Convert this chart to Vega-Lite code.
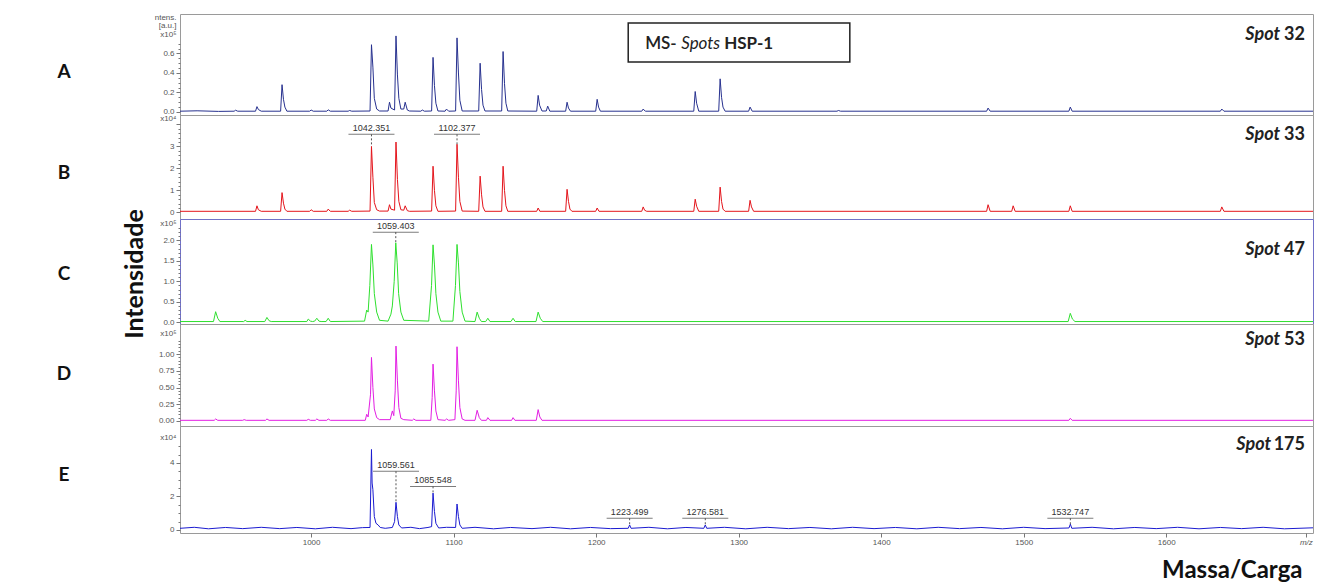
{
"$schema": "https://vega.github.io/schema/vega-lite/v6.json",
"padding": {"left": 14, "top": 12, "right": 5, "bottom": 3},
"background": "white",
"config": {
  "font": "Lato",
  "view": {"stroke": "#9a9a9a"},
  "axis": {"labelFont": "Liberation Sans", "labelFontSize": 8, "labelColor": "#555", "tickColor": "#777", "domainColor": "#888", "labelOverlap": false}
},
"datasets": {
  "letters": [{"p": "A"}, {"p": "B"}, {"p": "C"}, {"p": "D"}, {"p": "E"}],
  "A": [
{"m":908,"i":0.008},{"m":920,"i":0.012},{"m":935,"i":0.006},{"m":946,"i":0.008},{"m":947,"i":0.018},{"m":948.5,"i":0.008},
{"m":961,"i":0.008},{"m":962,"i":0.055},{"m":963,"i":0.025},{"m":965,"i":0.008},
{"m":978.6,"i":0.008},{"m":979.6,"i":0.28},{"m":980.6,"i":0.13},{"m":981.6,"i":0.05},{"m":983,"i":0.008},
{"m":999,"i":0.008},{"m":1000,"i":0.02},{"m":1001.5,"i":0.008},{"m":1011,"i":0.008},{"m":1012,"i":0.022},{"m":1013.5,"i":0.008},
{"m":1026,"i":0.008},{"m":1027,"i":0.015},{"m":1028.5,"i":0.008},
{"m":1041.35,"i":0.01},{"m":1042.35,"i":0.69},{"m":1043.35,"i":0.46},{"m":1044.35,"i":0.14},{"m":1046,"i":0.03},{"m":1048,"i":0.01},
{"m":1054,"i":0.01},{"m":1055,"i":0.1},{"m":1056,"i":0.04},{"m":1058.56,"i":0.02},{"m":1059.56,"i":0.78},{"m":1060.56,"i":0.38},{"m":1061.56,"i":0.14},{"m":1063,"i":0.03},
{"m":1065,"i":0.03},{"m":1066,"i":0.1},{"m":1067.5,"i":0.02},{"m":1069,"i":0.01},{"m":1077,"i":0.008},{"m":1078,"i":0.02},{"m":1079.5,"i":0.008},
{"m":1084.55,"i":0.01},{"m":1085.55,"i":0.56},{"m":1086.55,"i":0.27},{"m":1087.55,"i":0.09},{"m":1089,"i":0.01},
{"m":1094,"i":0.008},{"m":1095,"i":0.03},{"m":1096.5,"i":0.008},
{"m":1101.38,"i":0.01},{"m":1102.38,"i":0.76},{"m":1103.38,"i":0.4},{"m":1104.38,"i":0.12},{"m":1106,"i":0.01},
{"m":1117.6,"i":0.01},{"m":1118.6,"i":0.5},{"m":1119.6,"i":0.23},{"m":1120.6,"i":0.07},{"m":1122,"i":0.01},
{"m":1133.7,"i":0.01},{"m":1134.7,"i":0.62},{"m":1135.7,"i":0.29},{"m":1136.7,"i":0.09},{"m":1138,"i":0.01},
{"m":1158.3,"i":0.008},{"m":1159.3,"i":0.17},{"m":1160.3,"i":0.07},{"m":1162,"i":0.01},{"m":1165,"i":0.01},{"m":1166,"i":0.06},{"m":1167.5,"i":0.008},
{"m":1178.6,"i":0.008},{"m":1179.6,"i":0.1},{"m":1180.6,"i":0.04},{"m":1182,"i":0.008},
{"m":1199.7,"i":0.008},{"m":1200.7,"i":0.13},{"m":1201.7,"i":0.05},{"m":1203,"i":0.008},
{"m":1232,"i":0.008},{"m":1233,"i":0.03},{"m":1234.5,"i":0.008},
{"m":1268.5,"i":0.008},{"m":1269.5,"i":0.21},{"m":1270.5,"i":0.09},{"m":1272,"i":0.008},
{"m":1286,"i":0.008},{"m":1287,"i":0.34},{"m":1288,"i":0.15},{"m":1289,"i":0.05},{"m":1290.5,"i":0.008},
{"m":1307,"i":0.008},{"m":1308,"i":0.05},{"m":1309.5,"i":0.008},{"m":1369,"i":0.008},{"m":1370,"i":0.015},{"m":1371.5,"i":0.008},
{"m":1474,"i":0.008},{"m":1475,"i":0.04},{"m":1476.5,"i":0.008},{"m":1531.7,"i":0.008},{"m":1532.7,"i":0.05},{"m":1534,"i":0.008},
{"m":1638,"i":0.008},{"m":1639,"i":0.03},{"m":1640.5,"i":0.008},{"m":1703,"i":0.008}
  ],
  "B": [
{"m":908,"i":0.05},{"m":961,"i":0.05},{"m":962,"i":0.3},{"m":963,"i":0.12},{"m":965,"i":0.05},
{"m":978.6,"i":0.05},{"m":979.6,"i":0.9},{"m":980.6,"i":0.42},{"m":981.6,"i":0.15},{"m":983,"i":0.05},
{"m":999,"i":0.05},{"m":1000,"i":0.12},{"m":1001.5,"i":0.05},{"m":1011,"i":0.05},{"m":1012,"i":0.15},{"m":1013.5,"i":0.05},
{"m":1026,"i":0.05},{"m":1027,"i":0.1},{"m":1028.5,"i":0.05},
{"m":1041.35,"i":0.06},{"m":1042.35,"i":3.0},{"m":1043.35,"i":1.6},{"m":1044.35,"i":0.45},{"m":1046,"i":0.12},{"m":1048,"i":0.06},
{"m":1054,"i":0.06},{"m":1055,"i":0.35},{"m":1056,"i":0.15},{"m":1058.56,"i":0.1},{"m":1059.56,"i":3.2},{"m":1060.56,"i":1.5},{"m":1061.56,"i":0.5},{"m":1063,"i":0.12},
{"m":1065,"i":0.1},{"m":1066,"i":0.3},{"m":1067.5,"i":0.08},{"m":1069,"i":0.05},
{"m":1084.55,"i":0.06},{"m":1085.55,"i":2.1},{"m":1086.55,"i":1.0},{"m":1087.55,"i":0.3},{"m":1089,"i":0.05},
{"m":1101.38,"i":0.06},{"m":1102.38,"i":3.1},{"m":1103.38,"i":1.6},{"m":1104.38,"i":0.5},{"m":1106,"i":0.06},
{"m":1117.6,"i":0.05},{"m":1118.6,"i":1.65},{"m":1119.6,"i":0.8},{"m":1120.6,"i":0.25},{"m":1122,"i":0.05},
{"m":1133.7,"i":0.05},{"m":1134.7,"i":2.1},{"m":1135.7,"i":1.0},{"m":1136.7,"i":0.3},{"m":1138,"i":0.05},
{"m":1158.3,"i":0.05},{"m":1159.3,"i":0.2},{"m":1160.5,"i":0.05},
{"m":1178.6,"i":0.05},{"m":1179.6,"i":1.05},{"m":1180.6,"i":0.5},{"m":1181.6,"i":0.15},{"m":1183,"i":0.05},
{"m":1199.7,"i":0.05},{"m":1200.7,"i":0.2},{"m":1202,"i":0.05},
{"m":1232,"i":0.05},{"m":1233,"i":0.25},{"m":1234,"i":0.1},{"m":1235.5,"i":0.05},
{"m":1268.5,"i":0.05},{"m":1269.5,"i":0.6},{"m":1270.5,"i":0.28},{"m":1272,"i":0.05},
{"m":1286,"i":0.05},{"m":1287,"i":1.15},{"m":1288,"i":0.5},{"m":1289,"i":0.15},{"m":1290.5,"i":0.05},
{"m":1307,"i":0.05},{"m":1308,"i":0.55},{"m":1309,"i":0.25},{"m":1310.5,"i":0.05},
{"m":1474,"i":0.05},{"m":1475,"i":0.35},{"m":1476.5,"i":0.05},{"m":1491.6,"i":0.05},{"m":1492.6,"i":0.3},{"m":1494,"i":0.05},
{"m":1531.7,"i":0.05},{"m":1532.7,"i":0.3},{"m":1534,"i":0.05},{"m":1638,"i":0.05},{"m":1639,"i":0.25},{"m":1640.5,"i":0.05},{"m":1703,"i":0.05}
  ],
  "C": [
{"m":908,"i":0.02},{"m":931.5,"i":0.02},{"m":933,"i":0.26},{"m":934.5,"i":0.1},{"m":936,"i":0.02},
{"m":952.7,"i":0.02},{"m":953.7,"i":0.05},{"m":955,"i":0.02},{"m":967.5,"i":0.02},{"m":969,"i":0.12},{"m":970.5,"i":0.04},{"m":972,"i":0.02},
{"m":997,"i":0.02},{"m":998,"i":0.08},{"m":999.5,"i":0.03},{"m":1001,"i":0.02},{"m":1002.5,"i":0.03},{"m":1004,"i":0.1},{"m":1005.5,"i":0.03},{"m":1007,"i":0.02},
{"m":1010.5,"i":0.02},{"m":1012,"i":0.1},{"m":1013.5,"i":0.02},
{"m":1037.5,"i":0.03},{"m":1039,"i":0.3},{"m":1040,"i":0.25},{"m":1041.2,"i":0.9},{"m":1042.35,"i":1.9},{"m":1043.35,"i":1.4},{"m":1044.35,"i":0.7},{"m":1046,"i":0.25},{"m":1048,"i":0.05},
{"m":1054,"i":0.03},{"m":1056,"i":0.2},{"m":1057,"i":0.4},{"m":1058.3,"i":1.0},{"m":1059.4,"i":1.94},{"m":1060.4,"i":1.45},{"m":1061.4,"i":0.7},{"m":1063,"i":0.25},{"m":1065,"i":0.05},
{"m":1082.5,"i":0.03},{"m":1084.5,"i":0.9},{"m":1085.55,"i":1.89},{"m":1086.55,"i":1.4},{"m":1087.55,"i":0.7},{"m":1089,"i":0.25},{"m":1091,"i":0.03},
{"m":1099.5,"i":0.03},{"m":1101.3,"i":0.9},{"m":1102.38,"i":1.9},{"m":1103.38,"i":1.45},{"m":1104.38,"i":0.75},{"m":1106,"i":0.25},{"m":1108,"i":0.03},
{"m":1115,"i":0.02},{"m":1116.5,"i":0.25},{"m":1118,"i":0.1},{"m":1119.5,"i":0.02},{"m":1122.5,"i":0.02},{"m":1124,"i":0.1},{"m":1125.5,"i":0.02},
{"m":1140.2,"i":0.02},{"m":1141.7,"i":0.1},{"m":1143.2,"i":0.02},{"m":1157.8,"i":0.02},{"m":1159.3,"i":0.25},{"m":1160.8,"i":0.1},{"m":1162.5,"i":0.02},
{"m":1531.2,"i":0.02},{"m":1532.7,"i":0.22},{"m":1534.2,"i":0.08},{"m":1536,"i":0.02},{"m":1703,"i":0.02}
  ],
  "D": [
{"m":908,"i":0.01},{"m":932,"i":0.01},{"m":933,"i":0.03},{"m":934.5,"i":0.01},{"m":952,"i":0.01},{"m":953,"i":0.02},{"m":954.5,"i":0.01},
{"m":968,"i":0.01},{"m":969,"i":0.03},{"m":970.5,"i":0.01},{"m":997,"i":0.01},{"m":998,"i":0.025},{"m":999.5,"i":0.01},{"m":1003,"i":0.01},{"m":1004,"i":0.03},{"m":1005.5,"i":0.01},
{"m":1011,"i":0.01},{"m":1012,"i":0.03},{"m":1013.5,"i":0.01},
{"m":1038,"i":0.01},{"m":1039,"i":0.1},{"m":1040,"i":0.06},{"m":1041.7,"i":0.4},{"m":1042.35,"i":0.95},{"m":1043.35,"i":0.5},{"m":1044.35,"i":0.18},{"m":1046,"i":0.05},{"m":1048,"i":0.02},
{"m":1055.5,"i":0.02},{"m":1057,"i":0.15},{"m":1058,"i":0.08},{"m":1059,"i":0.45},{"m":1059.56,"i":1.12},{"m":1060.56,"i":0.6},{"m":1061.56,"i":0.2},{"m":1063,"i":0.04},{"m":1065,"i":0.02},
{"m":1071,"i":0.01},{"m":1072,"i":0.03},{"m":1073.5,"i":0.01},
{"m":1084,"i":0.01},{"m":1084.95,"i":0.35},{"m":1085.55,"i":0.85},{"m":1086.55,"i":0.45},{"m":1087.55,"i":0.15},{"m":1089,"i":0.02},
{"m":1094,"i":0.01},{"m":1095,"i":0.03},{"m":1096.5,"i":0.01},
{"m":1100.9,"i":0.02},{"m":1101.8,"i":0.45},{"m":1102.38,"i":1.11},{"m":1103.38,"i":0.6},{"m":1104.38,"i":0.2},{"m":1106,"i":0.03},{"m":1108,"i":0.01},
{"m":1115,"i":0.01},{"m":1116.5,"i":0.16},{"m":1118,"i":0.05},{"m":1119.5,"i":0.01},{"m":1123,"i":0.01},{"m":1124,"i":0.05},{"m":1125.5,"i":0.01},
{"m":1140.7,"i":0.01},{"m":1141.7,"i":0.05},{"m":1143,"i":0.01},{"m":1158,"i":0.01},{"m":1159.3,"i":0.17},{"m":1160.5,"i":0.06},{"m":1162,"i":0.01},
{"m":1531.7,"i":0.01},{"m":1532.7,"i":0.04},{"m":1534,"i":0.01},{"m":1703,"i":0.01}
  ],
  "E": [
{"m":908,"i":0.1},{"m":918,"i":0.16},{"m":928,"i":0.07},{"m":940,"i":0.15},{"m":952,"i":0.08},{"m":965,"i":0.16},{"m":978,"i":0.08},{"m":990,"i":0.15},{"m":1003,"i":0.07},{"m":1015,"i":0.16},{"m":1028,"i":0.08},{"m":1036,"i":0.14},
{"m":1041.35,"i":0.15},{"m":1042.35,"i":4.8},{"m":1042.8,"i":2.8},{"m":1043.35,"i":2.4},{"m":1044.35,"i":0.8},{"m":1045.5,"i":0.4},{"m":1047,"i":0.3},{"m":1048.5,"i":0.15},{"m":1052,"i":0.1},
{"m":1057,"i":0.15},{"m":1058.56,"i":0.5},{"m":1059.56,"i":1.65},{"m":1060.56,"i":0.8},{"m":1061.56,"i":0.3},{"m":1063.5,"i":0.12},
{"m":1070,"i":0.16},{"m":1076,"i":0.08},{"m":1082,"i":0.15},
{"m":1084.55,"i":0.2},{"m":1085.55,"i":2.2},{"m":1086.55,"i":1.1},{"m":1087.55,"i":0.4},{"m":1089.5,"i":0.12},{"m":1095,"i":0.16},
{"m":1101.38,"i":0.15},{"m":1102.38,"i":1.55},{"m":1103.38,"i":0.8},{"m":1104.38,"i":0.3},{"m":1106,"i":0.1},
{"m":1115,"i":0.16},{"m":1128,"i":0.07},{"m":1140,"i":0.15},{"m":1155,"i":0.08},{"m":1168,"i":0.16},{"m":1182,"i":0.07},{"m":1196,"i":0.15},{"m":1210,"i":0.08},
{"m":1222.5,"i":0.1},{"m":1223.5,"i":0.3},{"m":1224.5,"i":0.1},{"m":1237,"i":0.16},{"m":1250,"i":0.07},{"m":1263,"i":0.15},
{"m":1275.58,"i":0.1},{"m":1276.58,"i":0.3},{"m":1277.58,"i":0.1},
{"m":1290,"i":0.16},{"m":1305,"i":0.07},{"m":1320,"i":0.16},{"m":1335,"i":0.08},{"m":1350,"i":0.15},{"m":1365,"i":0.07},{"m":1380,"i":0.16},{"m":1395,"i":0.08},{"m":1410,"i":0.15},{"m":1425,"i":0.07},{"m":1440,"i":0.16},{"m":1455,"i":0.08},{"m":1470,"i":0.15},{"m":1485,"i":0.07},{"m":1500,"i":0.16},{"m":1515,"i":0.08},
{"m":1531.75,"i":0.12},{"m":1532.75,"i":0.35},{"m":1533.75,"i":0.1},
{"m":1548,"i":0.16},{"m":1563,"i":0.07},{"m":1578,"i":0.15},{"m":1593,"i":0.08},{"m":1608,"i":0.16},{"m":1623,"i":0.07},{"m":1638,"i":0.15},{"m":1653,"i":0.08},{"m":1668,"i":0.16},{"m":1683,"i":0.07},{"m":1703,"i":0.13}
  ],
  "Blab": [{"m":1042.351,"t":"1042.351","ly":3.55,"pk":3.0},{"m":1102.377,"t":"1102.377","ly":3.55,"pk":3.1}],
  "Clab": [{"m":1059.403,"t":"1059.403","ly":2.2,"pk":1.94}],
  "Elab": [{"m":1059.561,"t":"1059.561","ly":3.5,"pk":1.65},{"m":1085.548,"t":"1085.548","ly":2.6,"pk":2.2},{"m":1223.499,"t":"1223.499","ly":0.7,"pk":0.3},{"m":1276.581,"t":"1276.581","ly":0.7,"pk":0.3},{"m":1532.747,"t":"1532.747","ly":0.7,"pk":0.35}]
},
"spacing": 6,
"hconcat": [
  {
    "width": 100, "height": 519,
    "data": {"name": "letters"},
    "view": {"stroke": null},
    "mark": {"type": "text", "font": "Lato", "fontSize": 19, "fontWeight": "bold", "color": "#111"},
    "encoding": {
      "y": {"field": "p", "type": "ordinal", "scale": {"type": "point", "padding": 0.57},
            "axis": {"orient": "right", "title": "Intensidade", "labels": false, "ticks": false, "domain": false,
                     "titleFont": "Lato", "titleFontSize": 25, "titleFontWeight": "bold", "titleColor": "#111", "titleAngle": 270, "titlePadding": 33}},
      "text": {"field": "p"}
    }
  },
  {
    "spacing": 0,
    "bounds": "flush",
    "vconcat": [
      {
        "width": 1133, "height": 101,
        "data": {"name": "A"},
        "layer": [
          {"mark": {"type": "line", "color": "#27318f", "strokeWidth": 1},
           "encoding": {
             "x": {"field": "m", "type": "quantitative", "scale": {"domain": [908, 1703], "nice": false, "zero": false}, "axis": null},
             "y": {"field": "i", "type": "quantitative", "scale": {"domain": [-0.031, 1.005], "nice": false, "zero": false},
                   "axis": {"title": null, "grid": false, "domain": false, "labelOverlap": false, "labelFlush": false, "labelPadding": 2, "tickCount": 500,
                            "values": [0,0.05,0.1,0.15,0.2,0.25,0.3,0.35,0.4,0.45,0.5,0.55,0.6,0.65,0.7,0.79,0.885,0.97],
                            "labelExpr": "datum.value > 0.75 ? (datum.value > 0.95 ? 'ntens.' : (datum.value > 0.85 ? '[a.u.]' : 'x10⁵')) : (abs(datum.value*5 - round(datum.value*5)) < 0.001 ? format(datum.value, '.1f') : '')",
                            "tickSize": {"condition": {"test": "abs(datum.value*5 - round(datum.value*5)) < 0.001", "value": 4}, "value": 2},
                            "tickOpacity": {"condition": {"test": "datum.value > 0.75", "value": 0}, "value": 1}}}
           }},
          {"data": {"values": [{}]}, "mark": {"type": "rect", "fill": "white", "stroke": "#222", "strokeWidth": 1.5},
           "encoding": {"x": {"datum": 1222.5}, "x2": {"datum": 1378}, "y": {"datum": 0.913}, "y2": {"datum": 0.513}}},
          {"data": {"values": [{"t": "MS-"}]}, "mark": {"type": "text", "align": "left", "baseline": "middle", "font": "Lato", "fontSize": 17, "fontWeight": 600, "color": "#222"},
           "encoding": {"x": {"datum": 1234.4}, "y": {"datum": 0.7}, "text": {"field": "t"}}},
          {"data": {"values": [{"t": "Spots"}]}, "mark": {"type": "text", "align": "left", "baseline": "middle", "font": "Lato", "fontSize": 17, "fontStyle": "italic", "dx": 36, "color": "#222"},
           "encoding": {"x": {"datum": 1234.4}, "y": {"datum": 0.7}, "text": {"field": "t"}}},
          {"data": {"values": [{"t": "HSP-1"}]}, "mark": {"type": "text", "align": "left", "baseline": "middle", "font": "Lato", "fontSize": 17, "fontWeight": "bold", "dx": 79, "color": "#222"},
           "encoding": {"x": {"datum": 1234.4}, "y": {"datum": 0.7}, "text": {"field": "t"}}},
          {"data": {"values": [{"t": "32"}]}, "mark": {"type": "text", "align": "right", "baseline": "middle", "font": "Lato", "fontSize": 18, "fontWeight": "bold", "dx": -8, "color": "#222"},
           "encoding": {"x": {"datum": 1703}, "y": {"datum": 0.79}, "text": {"field": "t"}}},
          {"data": {"values": [{"t": "Spot"}]}, "mark": {"type": "text", "align": "right", "baseline": "middle", "font": "Lato", "fontSize": 18, "fontWeight": "bold", "fontStyle": "italic", "dx": -33, "color": "#222"},
           "encoding": {"x": {"datum": 1703}, "y": {"datum": 0.79}, "text": {"field": "t"}}}
        ]
      },
      {
        "width": 1133, "height": 104,
        "data": {"name": "B"},
        "layer": [
          {"mark": {"type": "line", "color": "#e4141b", "strokeWidth": 1},
           "encoding": {
             "x": {"field": "m", "type": "quantitative", "scale": {"domain": [908, 1703], "nice": false, "zero": false}, "axis": null},
             "y": {"field": "i", "type": "quantitative", "scale": {"domain": [-0.3, 4.43], "nice": false, "zero": false},
                   "axis": {"title": null, "grid": false, "domain": false, "labelOverlap": false, "labelFlush": false, "labelPadding": 2, "tickCount": 500,
                            "values": [0,0.2,0.4,0.6,0.8,1,1.2,1.4,1.6,1.8,2,2.2,2.4,2.6,2.8,3,3.2,3.4,3.6,3.8,4,4.25],
                            "labelExpr": "datum.value > 4.1 ? 'x10⁴' : ((abs(datum.value - round(datum.value)) < 0.001 && datum.value < 3.5) ? format(datum.value, 'd') : '')",
                            "tickSize": {"condition": {"test": "abs(datum.value - round(datum.value)) < 0.001", "value": 4}, "value": 2},
                            "tickOpacity": {"condition": {"test": "datum.value > 4.1", "value": 0}, "value": 1}}}
           }},
          {"data": {"name": "Blab"}, "mark": {"type": "rule", "strokeDash": [2, 2], "color": "#555"},
           "encoding": {"x": {"field": "m", "type": "quantitative"}, "y": {"field": "ly", "type": "quantitative"}, "y2": {"field": "pk"}}},
          {"data": {"name": "Blab"}, "mark": {"type": "tick", "orient": "horizontal", "size": 46, "thickness": 1, "color": "#444"},
           "encoding": {"x": {"field": "m", "type": "quantitative"}, "y": {"field": "ly", "type": "quantitative"}}},
          {"data": {"name": "Blab"}, "mark": {"type": "text", "baseline": "bottom", "dy": -1, "font": "Liberation Sans", "fontSize": 9, "color": "#333"},
           "encoding": {"x": {"field": "m", "type": "quantitative"}, "y": {"field": "ly", "type": "quantitative"}, "text": {"field": "t"}}},
          {"data": {"values": [{"t": "33"}]}, "mark": {"type": "text", "align": "right", "baseline": "middle", "font": "Lato", "fontSize": 18, "fontWeight": "bold", "dx": -8, "color": "#222"},
           "encoding": {"x": {"datum": 1703}, "y": {"datum": 3.52}, "text": {"field": "t"}}},
          {"data": {"values": [{"t": "Spot"}]}, "mark": {"type": "text", "align": "right", "baseline": "middle", "font": "Lato", "fontSize": 18, "fontWeight": "bold", "fontStyle": "italic", "dx": -33, "color": "#222"},
           "encoding": {"x": {"datum": 1703}, "y": {"datum": 3.52}, "text": {"field": "t"}}}
        ]
      },
      {
        "width": 1133, "height": 105,
        "data": {"name": "C"},
        "view": {"stroke": "#7070c8"},
        "layer": [
          {"mark": {"type": "line", "color": "#2ee02e", "strokeWidth": 1},
           "encoding": {
             "x": {"field": "m", "type": "quantitative", "scale": {"domain": [908, 1703], "nice": false, "zero": false}, "axis": null},
             "y": {"field": "i", "type": "quantitative", "scale": {"domain": [-0.04, 2.52], "nice": false, "zero": false},
                   "axis": {"title": null, "grid": false, "domain": false, "labelOverlap": false, "labelFlush": false, "labelPadding": 2, "tickCount": 500,
                            "values": [0,0.1,0.2,0.3,0.4,0.5,0.6,0.7,0.8,0.9,1,1.1,1.2,1.3,1.4,1.5,1.6,1.7,1.8,1.9,2,2.1,2.2,2.3,2.4],
                            "labelExpr": "datum.value > 2.35 ? 'x10⁵' : ((abs(datum.value*2 - round(datum.value*2)) < 0.001) ? format(datum.value, '.1f') : '')",
                            "tickSize": {"condition": {"test": "abs(datum.value*2 - round(datum.value*2)) < 0.001", "value": 4}, "value": 2},
                            "tickOpacity": {"condition": {"test": "datum.value > 2.35", "value": 0}, "value": 1}}}
           }},
          {"data": {"name": "Clab"}, "mark": {"type": "rule", "strokeDash": [2, 2], "color": "#555"},
           "encoding": {"x": {"field": "m", "type": "quantitative"}, "y": {"field": "ly", "type": "quantitative"}, "y2": {"field": "pk"}}},
          {"data": {"name": "Clab"}, "mark": {"type": "tick", "orient": "horizontal", "size": 46, "thickness": 1, "color": "#444"},
           "encoding": {"x": {"field": "m", "type": "quantitative"}, "y": {"field": "ly", "type": "quantitative"}}},
          {"data": {"name": "Clab"}, "mark": {"type": "text", "baseline": "bottom", "dy": -1, "font": "Liberation Sans", "fontSize": 9, "color": "#333"},
           "encoding": {"x": {"field": "m", "type": "quantitative"}, "y": {"field": "ly", "type": "quantitative"}, "text": {"field": "t"}}},
          {"data": {"values": [{"t": "47"}]}, "mark": {"type": "text", "align": "right", "baseline": "middle", "font": "Lato", "fontSize": 18, "fontWeight": "bold", "dx": -8, "color": "#222"},
           "encoding": {"x": {"datum": 1703}, "y": {"datum": 1.77}, "text": {"field": "t"}}},
          {"data": {"values": [{"t": "Spot"}]}, "mark": {"type": "text", "align": "right", "baseline": "middle", "font": "Lato", "fontSize": 18, "fontWeight": "bold", "fontStyle": "italic", "dx": -33, "color": "#222"},
           "encoding": {"x": {"datum": 1703}, "y": {"datum": 1.77}, "text": {"field": "t"}}}
        ]
      },
      {
        "width": 1133, "height": 102,
        "data": {"name": "D"},
        "layer": [
          {"mark": {"type": "line", "color": "#e31ee3", "strokeWidth": 1},
           "encoding": {
             "x": {"field": "m", "type": "quantitative", "scale": {"domain": [908, 1703], "nice": false, "zero": false}, "axis": null},
             "y": {"field": "i", "type": "quantitative", "scale": {"domain": [-0.075, 1.45], "nice": false, "zero": false},
                   "axis": {"title": null, "grid": false, "domain": false, "labelOverlap": false, "labelFlush": false, "labelPadding": 2, "tickCount": 500,
                            "values": [0,0.05,0.1,0.15,0.2,0.25,0.3,0.35,0.4,0.45,0.5,0.55,0.6,0.65,0.7,0.75,0.8,0.85,0.9,0.95,1,1.05,1.1,1.15,1.2,1.31],
                            "labelExpr": "datum.value > 1.25 ? 'x10⁵' : ((abs(datum.value*4 - round(datum.value*4)) < 0.001 && datum.value < 1.01) ? format(datum.value, '.2f') : '')",
                            "tickSize": {"condition": {"test": "abs(datum.value*4 - round(datum.value*4)) < 0.001", "value": 4}, "value": 2},
                            "tickOpacity": {"condition": {"test": "datum.value > 1.25", "value": 0}, "value": 1}}}
           }},
          {"data": {"values": [{"t": "53"}]}, "mark": {"type": "text", "align": "right", "baseline": "middle", "font": "Lato", "fontSize": 18, "fontWeight": "bold", "dx": -8, "color": "#222"},
           "encoding": {"x": {"datum": 1703}, "y": {"datum": 1.21}, "text": {"field": "t"}}},
          {"data": {"values": [{"t": "Spot"}]}, "mark": {"type": "text", "align": "right", "baseline": "middle", "font": "Lato", "fontSize": 18, "fontWeight": "bold", "fontStyle": "italic", "dx": -33, "color": "#222"},
           "encoding": {"x": {"datum": 1703}, "y": {"datum": 1.21}, "text": {"field": "t"}}}
        ]
      },
      {
        "width": 1133, "height": 107,
        "data": {"name": "E"},
        "layer": [
          {"mark": {"type": "line", "color": "#1b1bd0", "strokeWidth": 1},
           "encoding": {
             "x": {"field": "m", "type": "quantitative", "scale": {"domain": [908, 1703], "nice": false, "zero": false},
                   "axis": {"title": "Massa/Carga", "grid": false, "domain": false, "labelFlush": false, "labelPadding": 1, "tickSize": 4, "tickCount": 500,
                            "values": [1000,1100,1200,1300,1400,1500,1600,1698],
                            "labelExpr": "datum.value > 1650 ? 'm/z' : format(datum.value, 'd')",
                            "labelFontStyle": {"condition": {"test": "datum.value > 1650", "value": "italic"}, "value": "normal"},
                            "titleFont": "Lato", "titleFontSize": 24, "titleFontWeight": "bold", "titleColor": "#111",
                            "titleX": 1122, "titleY": 37, "titleAlign": "right", "titleBaseline": "middle"}},
             "y": {"field": "i", "type": "quantitative", "scale": {"domain": [-0.18, 6.2], "nice": false, "zero": false},
                   "axis": {"title": null, "grid": false, "domain": false, "labelOverlap": false, "labelFlush": false, "labelPadding": 2, "tickCount": 500,
                            "values": [0,0.5,1,1.5,2,2.5,3,3.5,4,4.5,5,5.5],
                            "labelExpr": "datum.value > 5.2 ? 'x10⁴' : ((abs(datum.value/2 - round(datum.value/2)) < 0.001 && datum.value < 4.5) ? format(datum.value, 'd') : '')",
                            "tickSize": {"condition": {"test": "abs(datum.value/2 - round(datum.value/2)) < 0.001", "value": 4}, "value": 2},
                            "tickOpacity": {"condition": {"test": "datum.value > 5.2", "value": 0}, "value": 1}}}
           }},
          {"data": {"name": "Elab"}, "mark": {"type": "rule", "strokeDash": [2, 2], "color": "#555"},
           "encoding": {"x": {"field": "m", "type": "quantitative"}, "y": {"field": "ly", "type": "quantitative"}, "y2": {"field": "pk"}}},
          {"data": {"name": "Elab"}, "mark": {"type": "tick", "orient": "horizontal", "size": 46, "thickness": 1, "color": "#444"},
           "encoding": {"x": {"field": "m", "type": "quantitative"}, "y": {"field": "ly", "type": "quantitative"}}},
          {"data": {"name": "Elab"}, "mark": {"type": "text", "baseline": "bottom", "dy": -1, "font": "Liberation Sans", "fontSize": 9, "color": "#333"},
           "encoding": {"x": {"field": "m", "type": "quantitative"}, "y": {"field": "ly", "type": "quantitative"}, "text": {"field": "t"}}},
          {"data": {"values": [{"t": "175"}]}, "mark": {"type": "text", "align": "right", "baseline": "middle", "font": "Lato", "fontSize": 18, "fontWeight": "bold", "dx": -8, "color": "#222"},
           "encoding": {"x": {"datum": 1703}, "y": {"datum": 5.07}, "text": {"field": "t"}}},
          {"data": {"values": [{"t": "Spot"}]}, "mark": {"type": "text", "align": "right", "baseline": "middle", "font": "Lato", "fontSize": 18, "fontWeight": "bold", "fontStyle": "italic", "dx": -42, "color": "#222"},
           "encoding": {"x": {"datum": 1703}, "y": {"datum": 5.07}, "text": {"field": "t"}}}
        ]
      }
    ]
  }
]
}
